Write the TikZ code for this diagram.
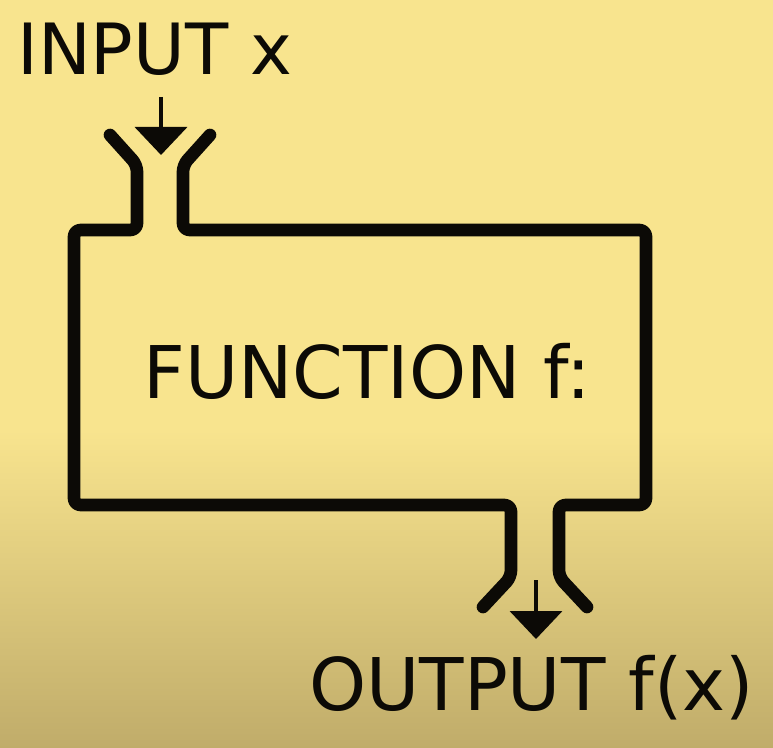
\documentclass[tikz,border=0pt]{standalone}
\usepackage{fontspec}
\setmainfont{DejaVu Sans}
\usetikzlibrary{arrows.meta}
\definecolor{paper}{RGB}{248,228,142}
\definecolor{paperdark}{RGB}{192,172,106}
\definecolor{ink}{RGB}{12,10,6}

\begin{document}
\begin{tikzpicture}[x=0.75pt,y=-0.75pt,
  wall/.style={draw=ink,line width=9.5pt,rounded corners=5pt,line cap=round,line join=round},
  feed/.style={draw=ink,line width=3pt,-{Triangle[width=39pt,length=21pt]}},
  caption/.style={inner sep=0pt,anchor=base west,text=ink}]
\useasboundingbox (0,0) rectangle (773,748);
\fill[paper] (0,0) rectangle (773,748);
\shade[top color=paper,bottom color=paperdark] (0,430) rectangle (773,748);

\node[caption,font=\fontsize{53}{62}\selectfont] (input) at (17,75) {INPUT x}; % input label
\node[caption,font=\fontsize{54.5}{64}\selectfont] (func) at (143,398) {FUNCTION f:}; % function label
\node[caption,font=\fontsize{54.5}{64}\selectfont] (output) at (309,710) {OUTPUT f(x)}; % output label

% funnel ends
\coordinate (inTail) at (161,97);
\coordinate (inTip) at (161,155);
\coordinate (outTail) at (536,580);
\coordinate (outTip) at (536,639);

% Left wall
\draw[wall] (110,135) -- (137,165) -- (137,230) -- (74,230) -- (74,505)
  -- (511,505) -- (511,577) -- (483,607);
% Right wall
\draw[wall] (210,135) -- (183,165) -- (183,230) -- (646,230) -- (646,505)
  -- (559,505) -- (559,577) -- (587,607);

\draw[feed] (inTail) -- (inTip);
\draw[feed] (outTail) -- (outTip);

\end{tikzpicture}
\end{document}
